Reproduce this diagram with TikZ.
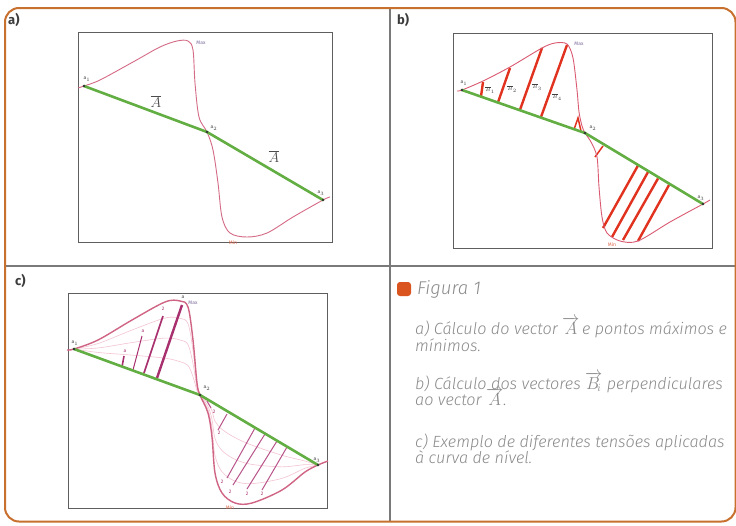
\documentclass[tikz,border=0pt]{standalone}
\usepackage{fontspec}
\setmainfont{Fira Sans}
\newfontfamily\capfont{Fira Sans Light}[ItalicFont={Fira Sans Light Italic}]
\newcommand\capvec[1]{\smash{$\overrightarrow{#1}$}}
\definecolor{framec}{HTML}{C8702E}
\definecolor{gridc}{HTML}{7A7A7A}
\definecolor{boxc}{HTML}{5E5E5E}
\definecolor{curvec}{HTML}{D46A86}
\definecolor{greenc}{HTML}{62AE42}
\definecolor{redc}{HTML}{E0321E}
\definecolor{magc}{HTML}{A8306E}
\definecolor{magl}{HTML}{B8558A}
\definecolor{faintc}{HTML}{F3C4D2}
\definecolor{capc}{HTML}{8A8A8A}
\definecolor{bulletc}{HTML}{D9541E}
\definecolor{labc}{HTML}{3C3C3C}
\definecolor{maxc}{HTML}{7A6A9A}
\definecolor{minc}{HTML}{E06A50}
\tikzset{
  frameline/.style={draw=framec, line width=2pt, rounded corners=14pt},
  gridline/.style={draw=gridc, line width=1.4pt},
  panelbox/.style={draw=boxc, line width=1pt},
  curvea/.style={draw=curvec, line width=0.9pt},
  curvec/.style={draw=curvec!90!magc, line width=1.4pt},
  faint/.style={draw=faintc, line width=0.6pt},
  chord/.style={draw=greenc, line width=2.6pt, line cap=round},
  redvec/.style={draw=redc, line width=2.4pt},
  magvec/.style={draw=magc, line width=1.6pt},
  maglow/.style={draw=magl, line width=1pt},
  pdot/.style={fill=black!80},
  plabel/.style={font=\fontsize{13}{13}\selectfont\bfseries, text=labc, anchor=west, inner sep=0pt},
  ptlab/.style={font=\fontsize{5}{5}\selectfont, text=black!75, inner sep=0pt},
  maxlab/.style={font=\fontsize{5}{5}\selectfont, text=maxc, inner sep=0pt},
  minlab/.style={font=\fontsize{5}{5}\selectfont, text=minc, inner sep=0pt},
  tinylab/.style={font=\fontsize{5}{5}\selectfont, text=magc, inner sep=0pt},
  veclab/.style={font=\fontsize{14}{14}\selectfont, text=black!70, inner sep=0pt},
  captext/.style={font=\capfont\fontsize{16.2}{17}\selectfont\itshape, text=capc, anchor=base west, inner sep=0pt},
}
\begin{document}
\begin{tikzpicture}[x=1pt,y=-1pt]
\useasboundingbox (0,0) rectangle (736,525);
\fill[white] (0,0) rectangle (736,525);

% grid dividers
\draw[gridline] (390,8) -- (390,521);
\draw[gridline] (5,266) -- (735,266);
% outer frame
\draw[frameline] (5,8) rectangle (735.5,521.5);

% panel labels
\node[plabel] (la) at (8,20) {a)};
\node[plabel] (lb) at (397,20) {b)};
\node[plabel] (lc) at (15,281) {c)};

% ================= panel a =================
\draw[panelbox] (78,32) rectangle (332,242);
\coordinate (aA1) at (84,86);
\coordinate (aA2) at (207,132);
\coordinate (aA3) at (323,200);
\draw[curvea] plot[smooth, tension=0.55] coordinates {(78,88) (84,86) (100,80) (133,62) (160,47) (177,41) (188,41) (193,50) (195,83) (199,117) (207,132) (213,150) (218,183) (222,217) (230,233) (247,237) (267,233) (293,217) (323,200) (330,197)};
\draw[chord] (aA1) -- (aA2) -- (aA3);
\fill[pdot] (aA1) circle (1.4) (aA2) circle (1.4) (aA3) circle (1.4);
\node[ptlab] (ta1) at (87,79) {a$_1$};
\node[ptlab] (ta2) at (214,128) {a$_2$};
\node[ptlab] (ta3) at (321,193) {a$_3$};
\node[maxlab] (tamax) at (201,43) {Max};
\node[minlab] (tamin) at (233,243) {Min};
\node[veclab] (vA1) at (156,102) {$\overline{A}$};
\node[veclab] (vA2) at (274,157) {$\overline{A}$};

% ================= panel b =================
\draw[panelbox] (453,33) rectangle (712,248);
\coordinate (bA1) at (462,90);
\coordinate (bA2) at (585,133);
\coordinate (bA3) at (703,204);
\draw[redvec] (481,96.5) -- (483,82);
\draw[redvec] (498,102.3) -- (510,68);
\draw[redvec] (520,109.8) -- (542,48);
\draw[redvec] (541,117) -- (567,45);
\draw[redvec, line width=1.5pt] (574,129.5) -- (578,118) -- (581,131);
\draw[redvec, line width=1.5pt] (595,157) -- (603,146);
\draw[redvec] (638,165.5) -- (603,228);
\draw[redvec] (648,172) -- (612,237);
\draw[redvec] (658,178.5) -- (623,240);
\draw[redvec] (669,185) -- (638,241);
\draw[curvea, draw=curvec!85!red] plot[smooth, tension=0.5] coordinates {(457,91) (462,90) (483,81) (510,67) (542,48) (555,43) (567,44) (573,58) (577,90) (579,112) (582,126) (585,133) (591,142) (597,157) (599,187) (602,217) (607,233) (620,241) (638,241) (670,222) (703,204) (710,200)};
\draw[chord] (bA1) -- (bA2) -- (bA3);
\fill[pdot] (bA1) circle (1.4) (bA2) circle (1.4) (bA3) circle (1.4);
\node[ptlab] (tb1) at (464,83) {a$_1$};
\node[ptlab] (tb2) at (593,128) {a$_2$};
\node[ptlab] (tb3) at (701,198) {a$_3$};
\node[maxlab] (tbmax) at (579,44) {Max};
\node[minlab] (tbmin) at (612,245) {Min};
\node[ptlab] (bl1) at (490,90) {$\overline{B}_1$};
\node[ptlab] (bl2) at (512,89) {$\overline{B}_2$};
\node[ptlab] (bl3) at (537,87) {$\overline{B}_3$};
\node[ptlab] (bl4) at (557,97) {$\overline{B}_4$};

% ================= panel c =================
\draw[panelbox] (68,293) rectangle (327,508);
\coordinate (cA1) at (74,349);
\coordinate (cA2) at (200,395);
\coordinate (cA3) at (318,465);
% faint intermediate curves, upper lobe
\foreach \bb/\dd/\tt in {-0.073/0.8/64.4, -0.164/0.55/144.9, -0.2555/0.3/225.4}{
  \begin{scope}[cm={1,\bb,0,\dd,(0,\tt)}]
    \draw[faint] plot[smooth, tension=0.55] coordinates {(74,349) (98,340) (132,320) (165,302) (180,301) (188,307) (193,340) (197,383) (200,395)};
  \end{scope}
}
% faint intermediate curves, lower lobe
\foreach \bb/\dd/\tt in {-0.148/0.75/69.1, -0.2965/0.5/138.2, -0.445/0.25/207.3}{
  \begin{scope}[cm={1,\bb,0,\dd,(0,\tt)}]
    \draw[faint] plot[smooth, tension=0.55] coordinates {(200,395) (208,413) (212,437) (215,473) (222,493) (235,503) (252,503) (282,490) (305,472) (318,465)};
  \end{scope}
}
\draw[magvec] (122,367) -- (124,356);
\draw[magvec, line width=1pt] (133,370) -- (142,336);
\draw[magvec] (144,373) -- (163,316);
\draw[magvec, line width=2.4pt] (157,378) -- (182,305);
\draw[maglow] (207,401) -- (211,408);
\draw[maglow] (227,414) -- (218,430);
\draw[maglow] (255,428) -- (227,478);
\draw[maglow] (265,434) -- (233,485);
\draw[maglow] (277,441) -- (247,489);
\draw[maglow] (287,447) -- (262,490);
\draw[curvec] plot[smooth, tension=0.55] coordinates {(67,350) (74,349) (98,340) (132,320) (165,302) (180,301) (188,307) (193,340) (197,383) (200,395) (208,413) (212,437) (215,473) (222,493) (235,503) (252,503) (282,490) (305,472) (318,465) (328,461)};
\draw[chord] (cA1) -- (cA2) -- (cA3);
\fill[pdot] (cA1) circle (1.4) (cA2) circle (1.4) (cA3) circle (1.4);
\node[ptlab] (tc1) at (75,343) {a$_1$};
\node[ptlab] (tc2) at (207,388) {a$_2$};
\node[ptlab] (tc3) at (317,460) {a$_3$};
\node[ptlab] (tcmaxa) at (183,297) {a};
\node[maxlab] (tcmax) at (193,303) {Max};
\node[minlab] (tcmin) at (230,508) {Min};
\node[tinylab] (cl1) at (125,351) {a};
\node[tinylab] (cl2) at (143,331) {a};
\node[tinylab] (cl3) at (163,309) {2};
\node[tinylab] (cl4) at (214,412) {2};
\node[tinylab] (cl5) at (219,433) {2};
\node[tinylab] (cl6) at (222,482) {2};
\node[tinylab] (cl7) at (230,492) {2};
\node[tinylab] (cl8) at (247,494) {2};
\node[tinylab] (cl9) at (262,494) {2};

% ================= caption panel =================
\fill[bulletc, rounded corners=3pt] (397,282) rectangle (411,296);
\node[captext, font=\capfont\fontsize{18.5}{18.5}\selectfont\itshape] (fig) at (417,294) {Figura 1};
\node[captext] (c1) at (415,334) {a) Cálculo do vector \capvec{A}\,e pontos máximos e};
\node[captext] (c2) at (415,351) {mínimos.};
\node[captext] (c3) at (415,389) {b) Cálculo dos vectores \capvec{B_{\!i}} perpendiculares};
\node[captext] (c4) at (415,405) {ao vector \capvec{A}.};
\node[captext] (c5) at (415,447) {c) Exemplo de diferentes tensões aplicadas};
\node[captext] (c6) at (415,463) {à curva de nível.};
\end{tikzpicture}
\end{document}
